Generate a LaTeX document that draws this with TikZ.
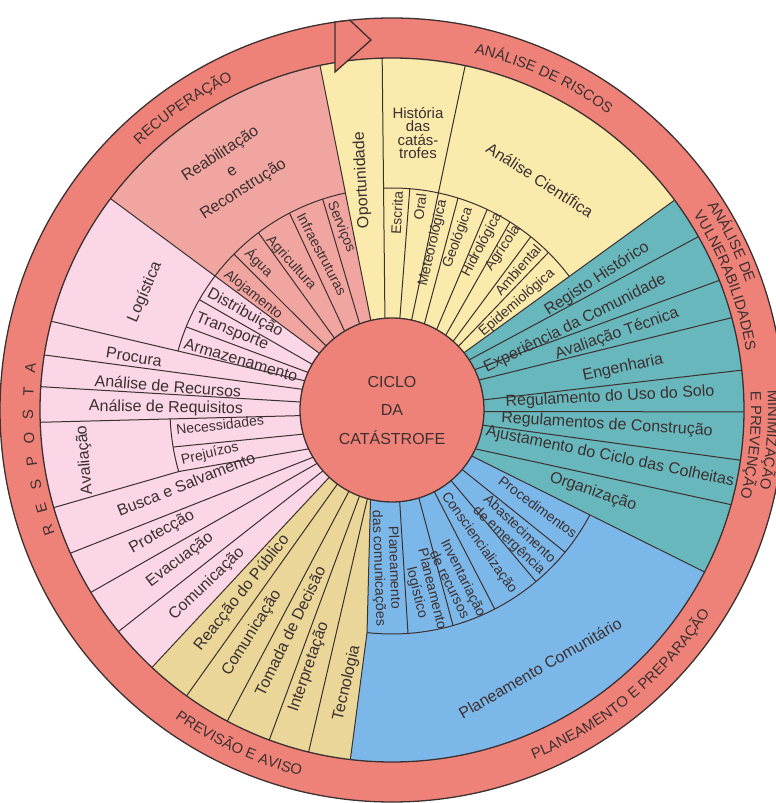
\documentclass[tikz,border=0pt]{standalone}
\usepackage{fontspec}
\setmainfont{Liberation Sans}
\usetikzlibrary{decorations.text}

\definecolor{ringred}{RGB}{239,130,120}
\definecolor{recup}{RGB}{241,165,160}
\definecolor{resp}{RGB}{250,214,231}
\definecolor{riscos}{RGB}{250,234,172}
\definecolor{vulner}{RGB}{104,183,188}
\definecolor{planea}{RGB}{124,183,234}
\definecolor{previs}{RGB}{233,214,152}
\definecolor{ink}{RGB}{60,48,48}

\newcommand{\ringf}{\fontsize{14.8}{16}\selectfont}
% colour wedge: colour, inner start, outer start, outer end, inner end
\newcommand{\wedgefill}[5]{%
  \fill[#1] (#2:92) -- (#3:352) arc[start angle=#3, end angle=#4, radius=352]
    -- (#5:92) arc[start angle=#5, end angle=#2, radius=92] -- cycle;}
% text on the outer ring: radius, start, end, alignment, text
\newcommand{\ringtext}[5]{%
  \path[decorate, decoration={text along path, text align=#4, text color=ink,
    text={|\ringf|#5}}] (#2:#1) arc[start angle=#2, end angle=#3, radius=#1];}

\tikzset{
  sep/.style={draw=ink, line width=1pt},
  lab/.style={font=\fontsize{16}{17}\selectfont, text=ink, inner sep=0pt, align=center},
  sublab/.style={font=\fontsize{14}{15.5}\selectfont, text=ink, inner sep=0pt, align=center},
}

\begin{document}
\begin{tikzpicture}[x=1pt, y=1pt]
\useasboundingbox (-392,-393) rectangle (384,410);

% colour sectors
\wedgefill{riscos}{38.5}{36.6}{101.8}{103.3}
\wedgefill{recup}{103.3}{101.8}{143.1}{142}
\wedgefill{resp}{142}{143.1}{227}{227}
\wedgefill{vulner}{-30}{-27.4}{36.6}{38.5}
\fill[previs] (227:92) -- (227:352) arc[start angle=227, end angle=263.2, radius=352]
  -- (263.6:224) -- (256.5:92) arc[start angle=256.5, end angle=227, radius=92] -- cycle;
\fill[planea] (256.5:92) -- (263.6:224) -- (263.2:352) arc[start angle=263.2, end angle=332.6, radius=352]
  -- (-30:92) arc[start angle=330, end angle=256.5, radius=92] -- cycle;

% full length dividers
\foreach \a/\b in {38.5/36.6, 103.3/101.8, 94.4/91.6, 77.7/78,
    33/29.5, 26/21.6, 19/15.2, 6.3/6.5, -1/-0.3, -9.5/-8.2, -25/-15.6, -30/-27.4,
    254.5/256.3, 249.3/249.6, 242.1/242.1, 233.6/234.3, 227/227,
    221.4/219, 215.5/211.2, 210.9/204, 183.5/182, 175/176.2, 167/171, 161.5/165.4, 142/143.1}
  \draw[sep] (\a:92) -- (\b:352);
% inner ring dividers
\foreach \a/\b in {85.1/85.4, 69.4/72.7, 61/64.6, 54.3/57.9, 48.3/51.3, 43.8/45.2,
    195.2/189.6, 155.9/158, 150.2/150.2,
    135.8/135.4, 128.7/127, 121/117.5, 110.6/108.2}
  \draw[sep] (\a:92) -- (\b:222);
\foreach \a/\b in {-40.3/-39.4, -50.1/-50, -62.6/-62.7, -73/-74.2, -85.2/-85.9}
  \draw[sep] (\a:92) -- (\b:224);
\draw[sep] (205:92) -- (196.1:222) -- (196.1:352);
\draw[sep] (256.5:92) -- (263.6:224) -- (263.2:352);
% inner arcs
\draw[sep] (37:222) arc[start angle=37, end angle=92.2, radius=222];
\draw[sep] (102.1:222) arc[start angle=102.1, end angle=164.6, radius=222];
\draw[sep] (182.3:222) arc[start angle=182.3, end angle=196.1, radius=222];
\draw[sep] (263.6:224) arc[start angle=263.6, end angle=332.1, radius=224];

% outer ring and arrow
\fill[ringred, even odd rule] (0,0) circle[radius=392] (0,0) circle[radius=352];
\draw[ink, line width=1.3pt] (0,0) circle[radius=352];
\draw[ink, line width=1.3pt] (0,0) circle[radius=392];
\filldraw[fill=ringred, draw=ink, line width=1.3pt] (-57,338) -- (-57,388) -- (-42,389.7) -- (-21,370) -- cycle;

% centre
\filldraw[fill=ringred, draw=ink, line width=1.3pt] (0,0) circle[radius=92];
\node[lab] (ciclo) at (0,28) {CICLO};
\node[lab] (da) at (0,0) {DA};
\node[lab] (catas) at (0,-28) {CATÁSTROFE};

% ring titles
\ringtext{366}{139.7}{109.7}{center}{RECUPERAÇÃO}
\ringtext{366}{80.4}{50.4}{center}{ANÁLISE DE RISCOS}
\ringtext{376}{33}{0}{left}{ANÁLISE DE}
\ringtext{359}{33}{0}{left}{VULNERABILIDADES}
\ringtext{376}{3}{-30}{left}{MINIMIZAÇÃO}
\ringtext{359}{3}{-30}{left}{E PREVENÇÃO}
\ringtext{377}{-70.2}{-30.2}{center}{PLANEAMENTO E PREPARAÇÃO}
\ringtext{377}{230.4}{260.4}{center}{PREVISÃO E AVISO}
\foreach \ch [count=\i from 0] in {R,E,S,P,O,S,T,A}
  \node[font=\ringf, text=ink, inner sep=0pt, rotate={109.25-3.69*\i}] (resp\i) at ({199.25-3.69*\i}:364) {\ch};

% análise de riscos
\node[lab, rotate=93] (oport) at (-30,230) {Oportunidade};
\node[font=\fontsize{15}{13.5}\selectfont, text=ink, align=center, inner sep=0pt] (hist) at (26,277) {História\\das\\catás-\\trofes};
\node[lab, rotate=-33] (cient) at (148,230) {Análise Científica};
\node[sublab, rotate=87] (escr) at (5,197) {Escrita};
\node[sublab, rotate=83] (oral) at (28,203) {Oral};
\node[sublab, rotate=77] (meteo) at (41,167) {Meteorológica};
\node[sublab, rotate=70] (geol) at (66,172) {Geológica};
\node[sublab, rotate=62] (hidro) at (90,165) {Hidrológica};
\node[sublab, rotate=56] (agric) at (111,162) {Agrícola};
\node[sublab, rotate=49] (ambi) at (126,140) {Ambiental};
\node[sublab, rotate=41] (epid) at (125,107) {Epidemiológica};

% vulnerabilidades e prevenção
\node[lab, rotate=33] (regh) at (205,131) {Registo Histórico};
\node[lab, rotate=26.5] (expc) at (183,86) {Experiência da Comunidade};
\node[lab, rotate=19] (avalt) at (225,76) {Avaliação Técnica};
\node[lab, rotate=12] (eng) at (231,42) {Engenharia};
\node[lab, rotate=3] (regus) at (218,13) {Regulamento do Uso do Solo};
\node[lab, rotate=-3.5] (regcon) at (215,-15) {Regulamentos de Construção};
\node[lab, rotate=-11.5] (ajust) at (218,-47) {Ajustamento do Ciclo das Colheitas};
\node[lab, rotate=-19] (organ) at (201,-82) {Organização};

% planeamento
\node[sublab, rotate=-36.5] (proced) at (146,-97) {Procedimentos};
\node[sublab, rotate=-43] (abast) at (122,-125) {Abastecimento\\de emergência};
\node[sublab, rotate=-54.5] (consc) at (87,-133) {Consciencialização};
\node[sublab, rotate=-63.5] (invent) at (65,-171) {Inventariação\\de recursos};
\node[sublab, rotate=-76] (planlog) at (32,-181) {Planeamento\\logístico};
\node[sublab, rotate=-88] (plancom) at (-6,-158) {Planeamento\\das comunicações};
\node[lab, rotate=30] (plancomu) at (148,-258) {Planeamento Comunitário};

% previsão e aviso
\node[lab, rotate=51.5] (reac) at (-150,-183) {Reacção do Público};
\node[lab, rotate=58] (comt) at (-140,-223) {Comunicação};
\node[lab, rotate=64] (tomada) at (-102,-221) {Tomada de Decisão};
\node[lab, rotate=71] (interp) at (-83,-257) {Interpretação};
\node[lab, rotate=77] (tecno) at (-45,-273) {Tecnologia};

% resposta
\node[lab, rotate=44] (comp) at (-185,-174) {Comunicação};
\node[lab, rotate=37] (evac) at (-212,-150) {Evacuação};
\node[lab, rotate=29.5] (prot) at (-230,-122) {Protecção};
\node[lab, rotate=21.5] (busca) at (-206,-74) {Busca e Salvamento};
\node[lab, rotate=95] (avali) at (-307,-50) {Avaliação};
\node[sublab, rotate=6.5] (neces) at (-172,-15) {Necessidades};
\node[sublab, rotate=13] (prej) at (-182,-44) {Prejuízos};
\node[lab, rotate=-1] (anreq) at (-226,2) {Análise de Requisitos};
\node[lab, rotate=-4.5] (anrec) at (-224,24) {Análise de Recursos};
\node[lab, rotate=-9] (procu) at (-258,53) {Procura};
\node[lab, rotate=-16.5] (armaz) at (-151,50) {Armazenamento};
\node[lab, rotate=-22] (transp) at (-160,78) {Transporte};
\node[lab, rotate=-28.5] (distr) at (-147,97) {Distribuição};
\node[lab, rotate=67] (logis) at (-247,118) {Logística};

% recuperação
\node[font=\fontsize{16}{21}\selectfont, text=ink, align=center, inner sep=0pt, rotate=33] (reab) at (-160,238) {Reabilitação\\e\\Reconstrução};
\node[sublab, rotate=-38.5] (aloj) at (-139,115) {Alojamento};
\node[sublab, rotate=-44] (agua) at (-133,147) {Água};
\node[sublab, rotate=-48] (agri) at (-101,147) {Agricultura};
\node[sublab, rotate=-62] (infra) at (-70,156) {Infraestruturas};
\node[sublab, rotate=-68] (serv) at (-51,183) {Serviços};
\end{tikzpicture}
\end{document}
